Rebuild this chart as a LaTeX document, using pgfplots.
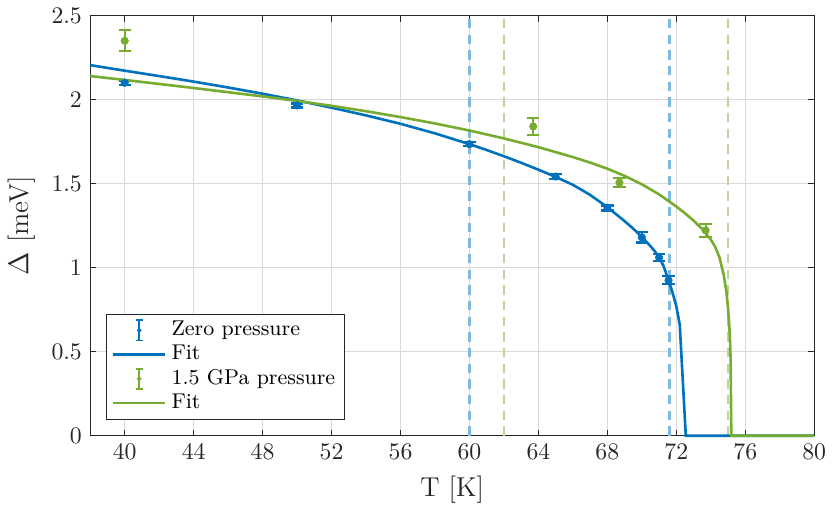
\documentclass[border=0pt]{standalone}
\usepackage{pgfplots}
\pgfplotsset{compat=1.18}

\definecolor{mblue}{RGB}{0,114,189}
\definecolor{mgreen}{RGB}{119,172,48}
\definecolor{lblue}{RGB}{128,185,222}
\definecolor{lgreen}{RGB}{187,214,152}
\definecolor{axgray}{RGB}{38,38,38}

\pgfplotsset{
  fitline/.style={legend image code/.code={\draw[#1, line width=1.1pt] (0cm,0cm) -- (0.78cm,0cm);}},
  errimg/.style={legend image code/.code={
    \draw[#1, line width=0.8pt] (0.39cm,-0.15cm) -- (0.39cm,0.15cm);
    \draw[#1, line width=0.8pt] (0.34cm,-0.15cm) -- (0.44cm,-0.15cm);
    \draw[#1, line width=0.8pt] (0.34cm,0.15cm) -- (0.44cm,0.15cm);
    \fill[#1] (0.39cm,0cm) circle (0.7pt);}},
}

\begin{document}
\begin{tikzpicture}
\begin{axis}[
  scale only axis, width=305pt, height=177pt,
  xmin=38, xmax=80, ymin=0, ymax=2.5,
  xtick={40,44,...,80}, ytick={0,0.5,...,2.5},
  tick align=inside, major tick length=2.5pt,
  axis line style={axgray, line width=0.5pt},
  tick style={axgray, line width=0.5pt},
  ticklabel style={axgray},
  grid=major, major grid style={black!15, line width=0.5pt},
  xlabel={T [K]}, ylabel={$\Delta$ [meV]},
  label style={font=\fontsize{11.5}{13}\selectfont, axgray},
  clip=false,
  legend style={at={(rel axis cs:0.022,0.038)}, anchor=south west,
    draw=axgray, line width=0.5pt, fill=white, font=\fontsize{9}{11}\selectfont,
    cells={anchor=west}, row sep=-1.5pt, inner xsep=2pt, inner ysep=1pt},
]
% dashed guide lines
\addplot[forget plot, lblue, line width=1pt, dash pattern=on 4pt off 2.6pt] coordinates {(60,0) (60,2.5)};
\addplot[forget plot, lblue, line width=1pt, dash pattern=on 4pt off 2.6pt] coordinates {(71.6,0) (71.6,2.5)};
\addplot[forget plot, lgreen, line width=1pt, dash pattern=on 4pt off 2.6pt] coordinates {(62,0) (62,2.5)};
\addplot[forget plot, lgreen, line width=1pt, dash pattern=on 4pt off 2.6pt] coordinates {(75,0) (75,2.5)};

% zero pressure data
\addplot[mblue, only marks, mark=*, mark size=1.5pt, errimg=mblue,
  error bars/.cd, y dir=both, y explicit,
  error bar style={line width=0.9pt, mblue},
  error mark options={mblue, mark size=2.6pt, line width=0.9pt, rotate=90}]
coordinates {
(40,2.10) +- (0,0.012)
(50,1.965) +- (0,0.012)
(60,1.735) +- (0,0.012)
(65,1.542) +- (0,0.015)
(68,1.355) +- (0,0.015)
(70,1.18) +- (0,0.03)
(71,1.06) +- (0,0.02)
(71.55,0.925) +- (0,0.023)
};
\addlegendentry{Zero pressure}

\addplot[mblue, line width=1.1pt, no marks, fitline=mblue]
coordinates {
(38,2.205)(40,2.172)(42,2.140)(44,2.107)(46,2.072)(48,2.035)(50,1.995)
(52,1.952)(54,1.906)(56,1.856)(58,1.799)(60,1.735)(61,1.700)(62,1.663)
(63,1.624)(64,1.583)(65,1.540)(66,1.493)(67,1.433)(68,1.360)(69,1.277)
(69.5,1.232)(70,1.183)(70.5,1.128)(70.75,1.098)(71,1.062)(71.25,1.012)
(71.5,0.94)(71.75,0.862)(72,0.772)(72.2,0.66)(72.55,0)(80,0)
};
\addlegendentry{Fit}

% 1.5 GPa data
\addplot[mgreen, only marks, mark=*, mark size=1.5pt, errimg=mgreen,
  error bars/.cd, y dir=both, y explicit,
  error bar style={line width=0.9pt, mgreen},
  error mark options={mgreen, mark size=2.6pt, line width=0.9pt, rotate=90}]
coordinates {
(40,2.35) +- (0,0.063)
(63.7,1.84) +- (0,0.05)
(68.7,1.506) +- (0,0.026)
(73.7,1.222) +- (0,0.039)
};
\addlegendentry{1.5 GPa pressure}

\addplot[mgreen, line width=1.1pt, no marks, fitline=mgreen]
coordinates {
(38,2.14)(40,2.117)(44,2.069)(48,2.019)(50,1.992)(52,1.963)(54,1.931)
(56,1.896)(58,1.858)(60,1.816)(62,1.769)(64,1.717)(66,1.658)(67,1.625)
(68,1.589)(69,1.546)(70,1.496)(71,1.436)(72,1.364)(72.5,1.324)(73,1.28)
(73.5,1.23)(74,1.1675)(74.25,1.125)(74.5,1.0625)(74.75,0.9575)(74.9,0.86)
(75,0.76)(75.1,0.61)(75.15,0.46)(75.19,0)(80,0)
};
\addlegendentry{Fit}
\end{axis}
\end{tikzpicture}
\end{document}
